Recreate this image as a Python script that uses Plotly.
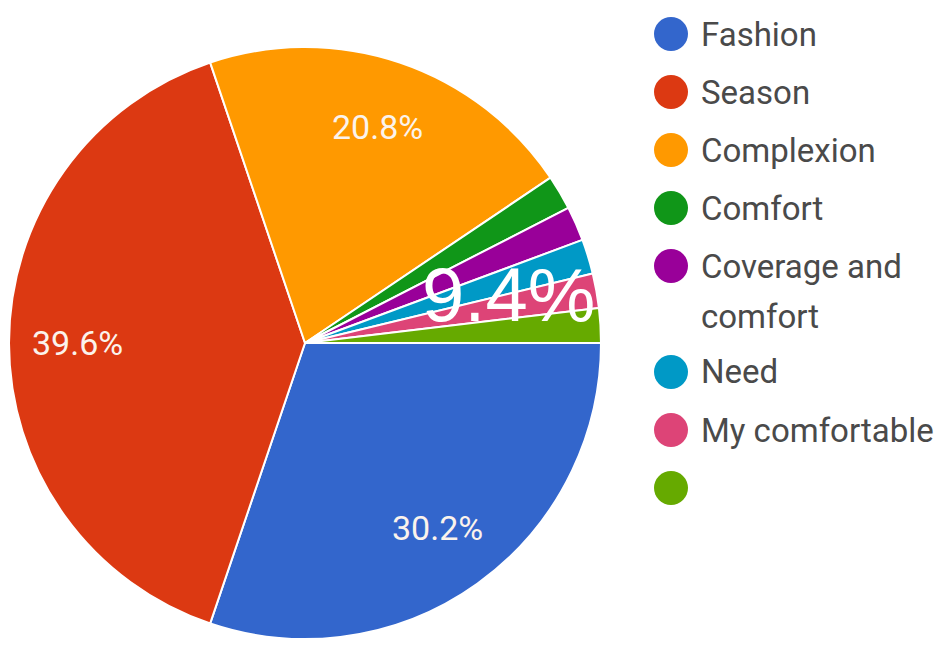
import numpy as np
import plotly.graph_objects as go

# Survey responses per answer
categories = ["Fashion", "Season", "Complexion", "Comfort",
              "Coverage and comfort", "Need", "My comfortable", " "]
responses = [16, 21, 11, 1, 1, 1, 1, 1]
colors = ["#3366CC", "#DC3912", "#FF9900", "#109618",
          "#990099", "#0099C6", "#DD4477", "#66AA00"]
# answers whose share is printed on the slice
show_share = [True, True, True, False, False, False, False, False]
legend_lines = [["Fashion"], ["Season"], ["Complexion"], ["Comfort"],
                ["Coverage and", "comfort"], ["Need"], ["My comfortable"], [""]]

W, H = 949, 649
cx, cy, R = 305, 343, 296  # pie centre and radius in pixels

fig = go.Figure(go.Pie(
    labels=categories,
    values=responses,
    marker=dict(colors=colors, line=dict(color="white", width=2)),
    sort=False,
    direction="clockwise",
    rotation=90,
    textinfo="none",
    hoverinfo="label+percent",
    showlegend=False,
    domain=dict(x=[(cx - R) / W, (cx + R) / W],
                y=[1 - (cy + R) / H, 1 - (cy - R) / H]),
))

vals = np.array(responses, dtype=float)
share = vals / vals.sum() * 100
start = np.concatenate([[0], np.cumsum(vals)[:-1]]) / vals.sum() * 360
mid = start + vals / vals.sum() * 180  # clockwise from 3 o'clock

annotations = []
for s, m, on in zip(share, mid, show_share):
    if not on:
        continue
    a = np.radians(m)
    px = cx + 0.77 * R * np.cos(a)
    py = cy + 0.77 * R * np.sin(a)
    annotations.append(dict(x=px / W, y=1 - py / H, xref="paper", yref="paper",
                            xanchor="center", yanchor="middle",
                            text=f"{s:.1f}%", showarrow=False,
                            font=dict(family="Roboto", size=34, color="#FBF3EC")))

# combined share of the small answers, printed across their slices
small = [i for i, on in enumerate(show_share) if not on]
small_share = share[small].sum()
a0 = np.radians(start[small[0]])
a1 = np.radians(start[small[-1]] + vals[small[-1]] / vals.sum() * 360)
am = (a0 + a1) / 2
annotations.append(dict(x=(cx + 0.72 * R * np.cos(am)) / W,
                        y=1 - (cy + 0.72 * R * np.sin(am) + 14) / H,
                        xref="paper", yref="paper",
                        xanchor="center", yanchor="middle",
                        text=f"{small_share:.1f}%", showarrow=False,
                        font=dict(family="Liberation Sans Narrow, Liberation Sans",
                                  size=76, color="white")))

# legend with round swatches
shapes = []
lx, tx, y0 = 671, 699, 34
row_gap, line_gap = 58, 51
extra = 0
for i, (lines, col) in enumerate(zip(legend_lines, colors)):
    y = y0 + row_gap * i + 48 * extra
    shapes.append(dict(type="circle", xref="paper", yref="paper",
                       xsizemode="pixel", ysizemode="pixel",
                       xanchor=lx / W, yanchor=1 - y / H,
                       x0=-17, x1=17, y0=-17, y1=17,
                       fillcolor=col, line=dict(width=0)))
    for k, t in enumerate(lines):
        if not t:
            continue
        annotations.append(dict(x=tx / W, y=1 - (y + line_gap * k) / H,
                                xref="paper", yref="paper", xanchor="left",
                                yanchor="middle", text=t, showarrow=False,
                                font=dict(family="Roboto", size=33, color="#4A4A4A")))
    extra += len(lines) - 1

fig.update_layout(width=W, height=H, margin=dict(l=0, r=0, t=0, b=0),
                  paper_bgcolor="white", plot_bgcolor="white",
                  annotations=annotations, shapes=shapes)
fig.write_html("out.html")
